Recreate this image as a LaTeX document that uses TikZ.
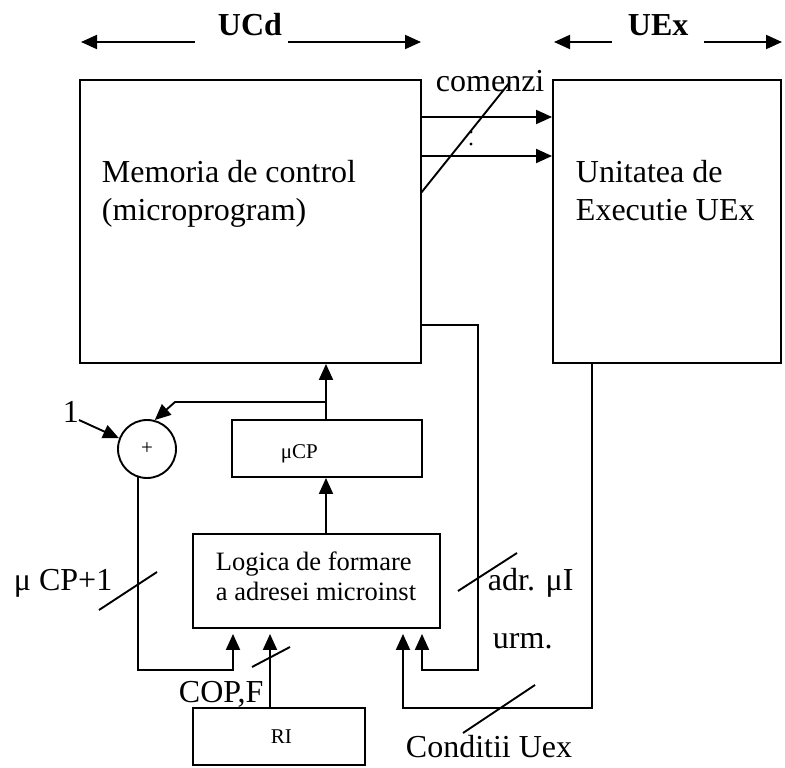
\documentclass[tikz,border=0pt]{standalone}
\usepackage{fontspec}
\setmainfont{Liberation Serif}
\usetikzlibrary{arrows.meta}
\begin{document}
\begin{tikzpicture}[x=1pt,y=-1pt,line width=1.9pt,
  box/.style={draw,line width=1.9pt,inner sep=0pt},
  arr/.style={-{Triangle[length=16pt,width=14pt]}},
  gap/.style={shorten >=5pt},
  big/.style={font=\fontsize{32}{38}\selectfont,inner sep=0pt},
  bigb/.style={font=\fontsize{32}{38}\selectfont\bfseries,inner sep=0pt},
  mid/.style={font=\fontsize{26.5}{30}\selectfont,inner sep=0pt},
  small/.style={font=\fontsize{21}{24}\selectfont,inner sep=0pt},
  lbl/.style={anchor=base west},
  tick/.style={line width=1.9pt}]
\useasboundingbox (0,0) rectangle (785,768);

% boxes
\node[box,minimum width=341pt,minimum height=283pt] (mem) at (250.5,221.5) {};
\node[box,minimum width=228pt,minimum height=283pt] (unit) at (667,221.5) {};
\node[box,minimum width=190pt,minimum height=57pt] (ucp) at (327,448.5) {};
\node[box,minimum width=247pt,minimum height=94pt] (logic) at (316.5,581) {};
\node[box,minimum width=172pt,minimum height=57pt] (ri) at (279,736.5) {};
\node[draw,circle,minimum size=58pt,inner sep=0pt,small] (sum) at (147,449) {+};

% texts
\node[bigb,lbl] (ucd) at (217,36) {UCd};
\node[bigb,lbl] (uex) at (627,36) {UEx};
\node[big,lbl,align=left] (memt) at (101,220) {Memoria de control\\(microprogram)};
\node[big,lbl,align=left] (unitt) at (575,220) {Unitatea de\\Executie UEx};
\node[small,lbl] (ucpt) at (280,458) {μCP};
\node[mid,lbl,align=left] (logict) at (215,600) {Logica de formare\\a adresei microinst};
\node[small,lbl] (rit) at (270,743) {RI};
\node[big,lbl] (com) at (435,92) {comenzi};
\node[big,lbl] (one) at (62,422) {1};
\node[big,lbl] (ucp1) at (13,590) {μ CP+1};
\node[big,lbl] (adr) at (487,590) {adr. μI};
\node[big,lbl] (urm) at (492,648) {urm.};
\node[big,lbl] (cop) at (178,702) {COP,F};
\node[big,lbl] (cond) at (405,757) {Conditii Uex};

% top arrows
\coordinate (ua) at (195,42); \coordinate (ub) at (81,42);
\coordinate (uc) at (288,42); \coordinate (ud) at (421,42);
\coordinate (ea) at (612,42); \coordinate (eb) at (554,42);
\coordinate (ec) at (704,42); \coordinate (ed) at (782,42);
\draw[arr] (ua) -- (ub);
\draw[arr] (uc) -- (ud);
\draw[arr] (ea) -- (eb);
\draw[arr] (ec) -- (ed);

% commands
\coordinate (a1) at (0,117); \coordinate (a2) at (0,156);
\draw[arr] (mem.east |- a1) -- (unit.west |- a1);
\draw[arr] (mem.east |- a2) -- (unit.west |- a2);
\draw[tick] (421,193) -- (510,82);
\fill (471,132) circle (1.6pt);
\fill (471,144) circle (1.6pt);

% uCP -> memory, branch to adder
\coordinate (bx) at (326,0);
\coordinate (br) at (326,402);
\coordinate (bk) at (175,402);
\draw[arr] (ucp.north -| bx) -- (mem.south -| bx);
\draw[arr] (br) -- (bk) -- (sum.75);
\coordinate (ones) at (79,420);
\draw[arr] (ones) -- (sum.159);

% logic -> uCP
\draw[arr] (logic.north -| bx) -- (ucp.south -| bx);

% adder -> logic
\coordinate (c1) at (233,670);
\draw[arr,gap] (sum.252) |- (c1) -- (c1 |- logic.south);
\draw[tick] (99,610) -- (157,572);

% RI -> logic
\coordinate (r1) at (270,0);
\draw[arr,gap] (ri.north -| r1) -- (logic.south -| r1);
\draw[tick] (252,667) -- (290,647);

% memory -> logic (next address)
\coordinate (yfb) at (0,325);
\coordinate (f1) at (478,670);
\coordinate (f2) at (422,670);
\draw[arr,gap] (mem.east |- yfb) -| (f1) -- (f2) -- (f2 |- logic.south);
\draw[tick] (458,591) -- (517,553);

% UEx -> logic (conditions)
\coordinate (g1) at (592,708);
\coordinate (g2) at (403,708);
\draw[arr,gap] (unit.south -| g1) -- (g1) -- (g2) -- (g2 |- logic.south);
\draw[tick] (463,733) -- (535,685);
\end{tikzpicture}
\end{document}
